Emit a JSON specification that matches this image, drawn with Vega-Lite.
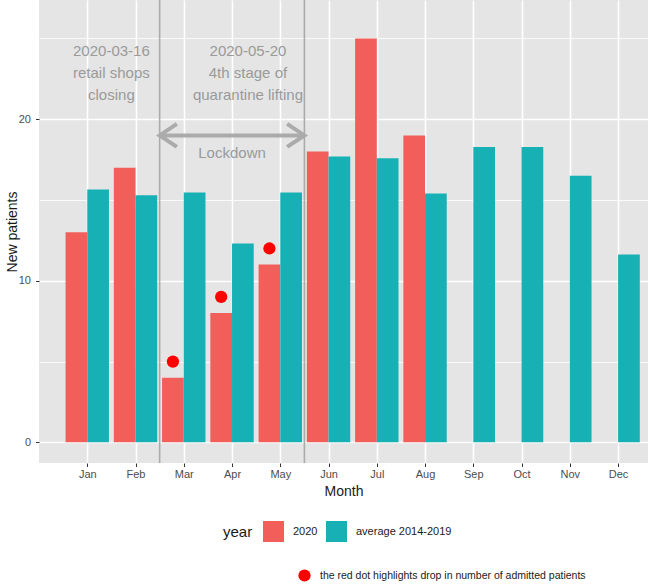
{
  "$schema": "https://vega.github.io/schema/vega-lite/v6.json",
  "width": 609,
  "height": 463,
  "autosize": {"type": "none"},
  "padding": {"left": 39, "top": 0, "right": 1, "bottom": 122},
  "background": "white",
  "config": {
    "font": "Liberation Sans",
    "view": {"fill": "#E5E5E5", "stroke": null},
    "axis": {"domain": false, "gridColor": "white", "tickColor": "#333333", "labelColor": "#4D4D4D", "titleColor": "#1A1A1A", "titleFontWeight": "normal"}
  },
  "datasets": {
    "bars": [
      {"month": 1, "year": "2020", "patients": 13},
      {"month": 1, "year": "average 2014-2019", "patients": 15.65},
      {"month": 2, "year": "2020", "patients": 17},
      {"month": 2, "year": "average 2014-2019", "patients": 15.3},
      {"month": 3, "year": "2020", "patients": 4},
      {"month": 3, "year": "average 2014-2019", "patients": 15.47},
      {"month": 4, "year": "2020", "patients": 8},
      {"month": 4, "year": "average 2014-2019", "patients": 12.3},
      {"month": 5, "year": "2020", "patients": 11},
      {"month": 5, "year": "average 2014-2019", "patients": 15.47},
      {"month": 6, "year": "2020", "patients": 18},
      {"month": 6, "year": "average 2014-2019", "patients": 17.7},
      {"month": 7, "year": "2020", "patients": 25},
      {"month": 7, "year": "average 2014-2019", "patients": 17.58},
      {"month": 8, "year": "2020", "patients": 19},
      {"month": 8, "year": "average 2014-2019", "patients": 15.4},
      {"month": 9, "year": "average 2014-2019", "patients": 18.28},
      {"month": 10, "year": "average 2014-2019", "patients": 18.28},
      {"month": 11, "year": "average 2014-2019", "patients": 16.5},
      {"month": 12, "year": "average 2014-2019", "patients": 11.62}
    ],
    "dots": [
      {"month": 3, "patients": 5},
      {"month": 4, "patients": 9},
      {"month": 5, "patients": 12}
    ],
    "events": [{"x": 2.5}, {"x": 5.5}],
    "notes": [
      {"x": 1.5, "y": 24.2, "label": "2020-03-16\nretail shops\nclosing"},
      {"x": 4.33, "y": 24.2, "label": "2020-05-20\n4th stage of\nquarantine lifting"},
      {"x": 4, "y": 17.9, "label": "Lockdown"}
    ],
    "arrow": [{"start": 2.5, "end": 5.5, "y": 19}]
  },
  "layer": [
    {
      "data": {"name": "events"},
      "mark": {"type": "rule", "color": "#ABABAB", "strokeWidth": 1.6},
      "encoding": {
        "x": {"field": "x", "type": "quantitative", "scale": {"domain": [0, 12.62], "nice": false, "zero": false, "padding": 0},
          "axis": {"values": [1,2,3,4,5,6,7,8,9,10,11,12], "labelExpr": "['Jan','Feb','Mar','Apr','May','Jun','Jul','Aug','Sep','Oct','Nov','Dec'][datum.value-1]", "title": "Month", "titleFontSize": 14, "labelFontSize": 11, "labelPadding": 2, "tickSize": 3.5, "gridWidth": 1.6, "titleY": 28, "titleBaseline": "middle"}}
      }
    },
    {
      "data": {"name": "bars"},
      "transform": [{"filter": "datum.year === '2020'"}],
      "mark": {"type": "bar", "width": 21.7, "xOffset": -10.85},
      "encoding": {
        "x": {"field": "month", "type": "quantitative"},
        "y": {"field": "patients", "type": "quantitative", "scale": {"domain": [-1.28, 27.38], "nice": false, "zero": false, "padding": 0},
          "axis": {"values": [0,5,10,15,20,25], "labelExpr": "datum.value % 10 === 0 ? datum.label : ''", "title": "New patients", "titleFontSize": 14, "labelFontSize": 11, "labelPadding": 5, "tickSize": 3.5,
            "tickOpacity": {"condition": {"test": "datum.value % 10 === 0", "value": 1}, "value": 0},
            "gridWidth": {"condition": {"test": "datum.value % 10 === 0", "value": 1.6}, "value": 0.8},
            "titleX": -27, "titleBaseline": "middle"}},
        "y2": {"datum": 0},
        "color": {"field": "year", "type": "nominal", "scale": {"domain": ["2020", "average 2014-2019"], "range": ["#F25F5B", "#17B1B5"]},
          "legend": {"orient": "none", "legendX": 184, "legendY": 521, "direction": "horizontal", "title": "year", "titleOrient": "left", "titleFontSize": 15, "titleFontWeight": "normal", "titleColor": "#1A1A1A", "titlePadding": 10, "labelFontSize": 11, "labelColor": "#1A1A1A", "labelOffset": 9, "columnPadding": 8, "symbolType": "square", "symbolSize": 441, "symbolStrokeWidth": 0, "symbolOpacity": 1}}
      }
    },
    {
      "data": {"name": "bars"},
      "transform": [{"filter": "datum.year !== '2020'"}],
      "mark": {"type": "bar", "width": 21.7, "xOffset": 10.85},
      "encoding": {
        "x": {"field": "month", "type": "quantitative"},
        "y": {"field": "patients", "type": "quantitative"},
        "y2": {"datum": 0},
        "color": {"field": "year", "type": "nominal"}
      }
    },
    {
      "data": {"name": "dots"},
      "mark": {"type": "point", "filled": true, "color": "#FF0000", "opacity": 1, "size": 150, "xOffset": -10.85},
      "encoding": {
        "x": {"field": "month", "type": "quantitative"},
        "y": {"field": "patients", "type": "quantitative"},
        "shape": {"datum": "the red dot highlights drop in number of admitted patients", "type": "nominal", "scale": {"range": ["circle"]},
          "legend": {"orient": "none", "legendX": 259, "legendY": 569, "title": null, "labelFontSize": 10.5, "labelLimit": 500, "labelColor": "#1A1A1A", "labelOffset": 9, "symbolSize": 150, "symbolFillColor": "#FF0000", "symbolStrokeColor": "#FF0000", "symbolStrokeWidth": 0, "symbolOpacity": 1}}
      }
    },
    {
      "data": {"name": "notes"},
      "mark": {"type": "text", "color": "#9A9A9A", "fontSize": 15, "lineBreak": "\n", "lineHeight": 21.7, "align": "center", "baseline": "middle"},
      "encoding": {
        "x": {"field": "x", "type": "quantitative"},
        "y": {"field": "y", "type": "quantitative"},
        "text": {"field": "label"}
      }
    },
    {
      "data": {"name": "arrow"},
      "mark": {"type": "rule", "color": "#ABABAB", "strokeWidth": 4},
      "encoding": {
        "x": {"field": "start", "type": "quantitative"},
        "x2": {"field": "end"},
        "y": {"field": "y", "type": "quantitative"}
      }
    },
    {
      "data": {"name": "arrow"},
      "mark": {"type": "point", "shape": "M1.5,-1L0,0L1.5,1", "filled": false, "color": "#ABABAB", "strokeWidth": 4, "size": 529, "opacity": 1, "strokeJoin": "miter"},
      "encoding": {
        "x": {"field": "start", "type": "quantitative"},
        "y": {"field": "y", "type": "quantitative"}
      }
    },
    {
      "data": {"name": "arrow"},
      "mark": {"type": "point", "shape": "M-1.5,-1L0,0L-1.5,1", "filled": false, "color": "#ABABAB", "strokeWidth": 4, "size": 529, "opacity": 1, "strokeJoin": "miter"},
      "encoding": {
        "x": {"field": "end", "type": "quantitative"},
        "y": {"field": "y", "type": "quantitative"}
      }
    }
  ]
}
